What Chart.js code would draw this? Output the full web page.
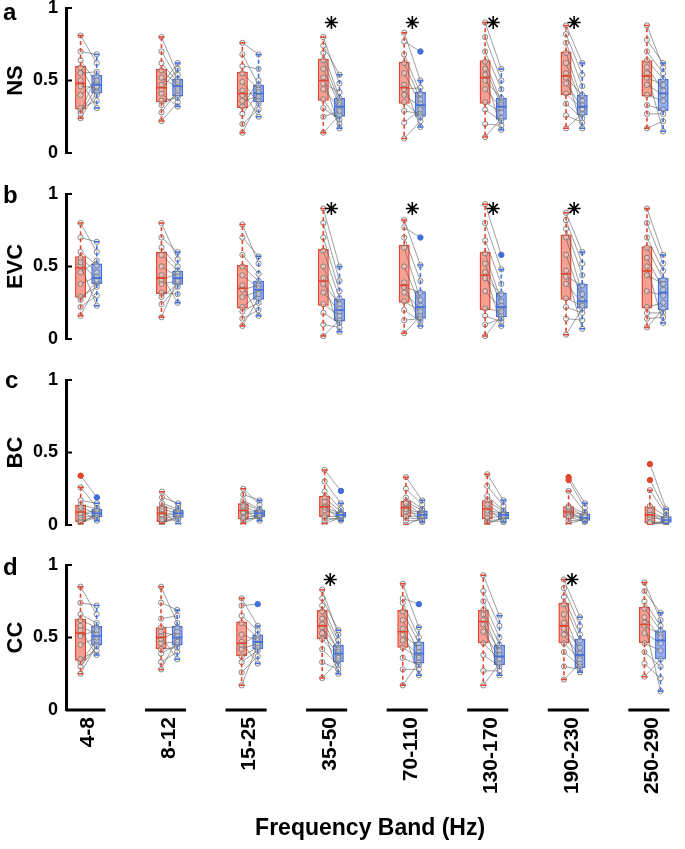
<!DOCTYPE html>
<html>
<head>
<meta charset="utf-8">
<script src="https://cdn.jsdelivr.net/npm/chart.js@4"></script>
<style>
  body { margin: 0; background: #fff; width: 685px; height: 849px; overflow: hidden; position: relative; font-family: "Liberation Sans", Arial, sans-serif; }
  canvas { position: absolute; left: 0; }
  .lbl { position: absolute; left: 3px; font-weight: bold; font-size: 24px; line-height: 24px; color: #000; }
</style>
</head>
<body>
<canvas id="ns" width="685" height="185" style="top:-12px"></canvas>
<canvas id="evc" width="685" height="185" style="top:174px"></canvas>
<canvas id="bc" width="685" height="185" style="top:360px"></canvas>
<canvas id="cc" width="685" height="304" style="top:545px"></canvas>
<div class="lbl" style="top:0px">a</div>
<div class="lbl" style="top:183px">b</div>
<div class="lbl" style="top:368px;left:5px">c</div>
<div class="lbl" style="top:555px">d</div>
<script>
const bands = ['4-8', '8-12', '15-25', '35-50', '70-110', '130-170', '190-230', '250-290'];
const yTicks = [0, 0.5, 1];

// ---- NS ----  box stats per band: [min, q1, median, q3, max]
const nsRedBox = [[0.24,0.30,0.48,0.60,0.81],[0.22,0.35,0.45,0.58,0.80],[0.14,0.31,0.41,0.56,0.76],[0.14,0.36,0.50,0.65,0.80],
                  [0.10,0.34,0.45,0.63,0.83],[0.11,0.34,0.52,0.64,0.90],[0.17,0.40,0.53,0.70,0.88],[0.17,0.39,0.53,0.64,0.88]];
const nsBlueBox = [[0.31,0.41,0.47,0.54,0.68],[0.32,0.39,0.46,0.51,0.62],[0.25,0.35,0.41,0.47,0.68],[0.17,0.25,0.32,0.38,0.54],
                   [0.18,0.25,0.33,0.42,0.50],[0.16,0.23,0.32,0.38,0.58],[0.17,0.26,0.32,0.40,0.62],[0.15,0.29,0.41,0.51,0.62]];
const nsRedOut = [[],[],[],[],[],[],[],[]];
const nsBlueOut = [[],[],[],[],[0.70],[],[],[]];
// per subject values (same subject order in red and blue)
const nsRed = [
  [0.81,0.24,0.50,0.64,0.29,0.46,0.70,0.31,0.55,0.40,0.59,0.27],
  [0.70,0.22,0.47,0.57,0.33,0.80,0.41,0.28,0.62,0.44,0.36,0.52],
  [0.76,0.14,0.43,0.55,0.27,0.60,0.36,0.20,0.68,0.40,0.32,0.49],
  [0.80,0.14,0.52,0.64,0.31,0.74,0.44,0.25,0.69,0.48,0.37,0.58],
  [0.77,0.10,0.47,0.62,0.29,0.83,0.40,0.21,0.68,0.44,0.35,0.55],
  [0.90,0.11,0.54,0.63,0.30,0.80,0.44,0.20,0.70,0.50,0.35,0.58],
  [0.88,0.17,0.55,0.69,0.34,0.82,0.48,0.26,0.76,0.52,0.41,0.62],
  [0.88,0.17,0.55,0.64,0.33,0.78,0.47,0.27,0.70,0.52,0.40,0.59]];
const nsBlue = [
  [0.62,0.42,0.31,0.48,0.53,0.45,0.68,0.36,0.56,0.50,0.40,0.46],
  [0.51,0.35,0.62,0.47,0.40,0.54,0.32,0.43,0.49,0.58,0.38,0.45],
  [0.68,0.36,0.25,0.44,0.41,0.58,0.39,0.30,0.47,0.42,0.50,0.34],
  [0.48,0.26,0.17,0.35,0.23,0.54,0.31,0.29,0.38,0.42,0.20,0.33],
  [0.70,0.22,0.18,0.37,0.27,0.50,0.32,0.30,0.41,0.45,0.25,0.34],
  [0.58,0.24,0.16,0.35,0.22,0.50,0.31,0.19,0.44,0.38,0.28,0.33],
  [0.62,0.27,0.17,0.36,0.24,0.54,0.31,0.21,0.46,0.40,0.30,0.33],
  [0.59,0.22,0.15,0.51,0.30,0.62,0.40,0.27,0.55,0.47,0.36,0.43]];
const nsSig = [4, 5, 6, 7];

// ---- EVC ----
const evcRedBox = [[0.16,0.285,0.49,0.57,0.80],[0.15,0.31,0.42,0.60,0.80],[0.09,0.21,0.35,0.51,0.79],[0.02,0.23,0.40,0.62,0.90],
                   [0.04,0.25,0.37,0.65,0.82],[0.02,0.20,0.44,0.60,0.93],[0.03,0.27,0.45,0.72,0.87],[0.08,0.21,0.47,0.64,0.90]];
const evcBlueBox = [[0.23,0.38,0.42,0.52,0.67],[0.25,0.375,0.42,0.47,0.60],[0.16,0.27,0.34,0.40,0.57],[0.05,0.12,0.20,0.28,0.50],
                    [0.09,0.14,0.22,0.33,0.51],[0.09,0.15,0.22,0.32,0.48],[0.07,0.21,0.26,0.38,0.60],[0.11,0.20,0.32,0.42,0.58]];
const evcRedOut = [[],[],[],[],[],[],[],[]];
const evcBlueOut = [[],[],[],[],[0.70],[0.58],[],[]];
const evcRed = [
  [0.80,0.16,0.51,0.56,0.27,0.70,0.38,0.22,0.60,0.46,0.29,0.53],
  [0.80,0.15,0.44,0.58,0.29,0.70,0.38,0.24,0.63,0.41,0.32,0.50],
  [0.79,0.09,0.37,0.50,0.19,0.70,0.29,0.14,0.58,0.34,0.22,0.44],
  [0.90,0.02,0.42,0.61,0.18,0.80,0.32,0.10,0.70,0.38,0.24,0.50],
  [0.77,0.04,0.39,0.63,0.20,0.82,0.32,0.13,0.70,0.36,0.26,0.50],
  [0.93,0.02,0.46,0.59,0.16,0.80,0.33,0.10,0.68,0.42,0.21,0.52],
  [0.87,0.03,0.47,0.70,0.22,0.82,0.38,0.14,0.76,0.43,0.28,0.58],
  [0.90,0.08,0.50,0.63,0.18,0.80,0.33,0.14,0.70,0.44,0.22,0.56]];
const evcBlue = [
  [0.60,0.38,0.23,0.46,0.40,0.67,0.43,0.30,0.51,0.54,0.36,0.41],
  [0.55,0.41,0.25,0.47,0.38,0.60,0.40,0.36,0.50,0.45,0.31,0.43],
  [0.52,0.28,0.16,0.40,0.25,0.57,0.33,0.20,0.45,0.37,0.31,0.35],
  [0.50,0.13,0.05,0.28,0.11,0.40,0.19,0.08,0.33,0.24,0.16,0.21],
  [0.70,0.16,0.09,0.27,0.12,0.51,0.21,0.14,0.40,0.32,0.19,0.23],
  [0.58,0.16,0.09,0.26,0.12,0.48,0.21,0.14,0.38,0.31,0.19,0.23],
  [0.60,0.21,0.07,0.31,0.18,0.52,0.25,0.13,0.44,0.37,0.23,0.27],
  [0.58,0.21,0.11,0.41,0.18,0.52,0.30,0.15,0.47,0.38,0.25,0.34]];
const evcSig = [4, 5, 6, 7];

// ---- BC ----
const bcRedBox = [[0.01,0.02,0.09,0.14,0.26],[0.01,0.02,0.08,0.13,0.23],[0.01,0.04,0.10,0.15,0.25],[0.01,0.055,0.125,0.20,0.38],
                  [0.00,0.055,0.12,0.165,0.33],[0.01,0.04,0.11,0.17,0.35],[0.01,0.05,0.09,0.13,0.235],[0.00,0.01,0.07,0.13,0.24]];
const bcBlueBox = [[0.03,0.055,0.08,0.11,0.15],[0.01,0.05,0.08,0.105,0.15],[0.03,0.055,0.08,0.105,0.17],[0.03,0.05,0.07,0.09,0.15],
                   [0.02,0.04,0.07,0.10,0.17],[0.02,0.04,0.07,0.09,0.17],[0.02,0.03,0.05,0.08,0.15],[0.01,0.015,0.035,0.06,0.11]];
const bcRedOut = [[0.34],[],[],[],[],[],[0.31,0.33],[0.31,0.42]];
const bcBlueOut = [[0.19],[],[],[0.235],[],[],[],[]];
const bcRed = [
  [0.34,0.01,0.10,0.14,0.03,0.26,0.07,0.02,0.17,0.08,0.05,0.12],
  [0.23,0.01,0.09,0.13,0.03,0.19,0.06,0.02,0.15,0.07,0.04,0.11],
  [0.25,0.01,0.11,0.15,0.04,0.21,0.08,0.03,0.17,0.09,0.05,0.13],
  [0.38,0.01,0.13,0.19,0.05,0.30,0.10,0.03,0.23,0.12,0.06,0.16],
  [0.33,0.00,0.13,0.16,0.05,0.25,0.09,0.03,0.19,0.11,0.06,0.15],
  [0.35,0.01,0.12,0.17,0.03,0.27,0.08,0.02,0.20,0.10,0.05,0.14],
  [0.33,0.01,0.10,0.13,0.05,0.31,0.08,0.03,0.235,0.09,0.06,0.12],
  [0.42,0.00,0.08,0.13,0.01,0.31,0.05,0.01,0.24,0.07,0.02,0.10]];
const bcBlue = [
  [0.19,0.08,0.03,0.11,0.06,0.12,0.09,0.05,0.15,0.10,0.07,0.08],
  [0.13,0.06,0.01,0.10,0.05,0.15,0.08,0.04,0.11,0.09,0.07,0.08],
  [0.14,0.06,0.03,0.10,0.05,0.17,0.08,0.06,0.11,0.09,0.07,0.08],
  [0.235,0.05,0.03,0.09,0.04,0.15,0.07,0.05,0.11,0.08,0.06,0.07],
  [0.17,0.05,0.02,0.10,0.04,0.14,0.07,0.03,0.11,0.08,0.06,0.07],
  [0.17,0.05,0.02,0.09,0.04,0.13,0.07,0.03,0.10,0.08,0.06,0.07],
  [0.15,0.04,0.02,0.08,0.03,0.12,0.05,0.03,0.09,0.07,0.05,0.06],
  [0.11,0.03,0.01,0.06,0.02,0.09,0.04,0.01,0.07,0.05,0.02,0.035]];
const bcSig = [];

// ---- CC ----
const ccRedBox = [[0.25,0.34,0.53,0.63,0.85],[0.28,0.42,0.50,0.57,0.85],[0.17,0.37,0.46,0.61,0.77],[0.22,0.49,0.58,0.69,0.83],
                  [0.17,0.43,0.54,0.69,0.87],[0.17,0.46,0.61,0.69,0.93],[0.21,0.46,0.58,0.74,0.90],[0.23,0.46,0.59,0.71,0.88]];
const ccBlueBox = [[0.38,0.445,0.51,0.58,0.72],[0.35,0.445,0.50,0.58,0.69],[0.32,0.42,0.47,0.52,0.58],[0.25,0.33,0.39,0.45,0.55],
                   [0.24,0.32,0.39,0.47,0.57],[0.24,0.31,0.37,0.45,0.65],[0.26,0.29,0.38,0.49,0.64],[0.13,0.35,0.48,0.55,0.67]];
const ccRedOut = [[],[],[],[],[],[],[],[]];
const ccBlueOut = [[],[],[0.73],[],[0.73],[],[],[]];
const ccRed = [
  [0.85,0.25,0.55,0.62,0.33,0.74,0.45,0.30,0.66,0.51,0.35,0.58],
  [0.85,0.28,0.51,0.57,0.39,0.74,0.46,0.33,0.63,0.49,0.42,0.54],
  [0.72,0.17,0.47,0.60,0.33,0.77,0.42,0.26,0.65,0.45,0.37,0.52],
  [0.83,0.22,0.59,0.68,0.42,0.77,0.53,0.33,0.72,0.57,0.49,0.63],
  [0.77,0.17,0.56,0.68,0.36,0.87,0.48,0.28,0.74,0.52,0.43,0.62],
  [0.93,0.17,0.62,0.69,0.38,0.82,0.54,0.27,0.75,0.59,0.46,0.66],
  [0.90,0.21,0.60,0.73,0.40,0.84,0.52,0.30,0.78,0.56,0.46,0.66],
  [0.88,0.23,0.60,0.70,0.40,0.82,0.53,0.32,0.75,0.58,0.46,0.64]];
const ccBlue = [
  [0.66,0.45,0.38,0.57,0.48,0.72,0.50,0.44,0.60,0.55,0.41,0.52],
  [0.60,0.49,0.35,0.57,0.45,0.69,0.47,0.40,0.65,0.54,0.43,0.51],
  [0.73,0.45,0.32,0.50,0.41,0.58,0.46,0.37,0.55,0.52,0.43,0.48],
  [0.52,0.34,0.25,0.45,0.31,0.55,0.38,0.28,0.48,0.42,0.36,0.40],
  [0.73,0.33,0.24,0.46,0.31,0.57,0.38,0.28,0.50,0.43,0.36,0.40],
  [0.65,0.32,0.24,0.45,0.30,0.58,0.36,0.27,0.50,0.41,0.35,0.38],
  [0.64,0.32,0.26,0.48,0.30,0.58,0.37,0.28,0.52,0.43,0.35,0.39],
  [0.62,0.35,0.13,0.55,0.30,0.67,0.46,0.22,0.58,0.52,0.41,0.50]];
const ccSig = [4, 7];

// ---- drawing settings ----
const RED = '#e8442c', RED_FILL = 'rgba(240,100,80,0.62)';
const BLUE = '#4170e0', BLUE_FILL = 'rgba(85,125,232,0.62)';
const X_MIN = 0.72, X_MAX = 8.27;
const OFF = 0.1;      // red/blue shift from band centre
const HALF = 0.062;   // half box width (median line)
const CAP = 0.035;    // half whisker cap
const STAR_Y = 0.9;

Chart.defaults.font.family = '"Liberation Sans", Arial, sans-serif';

function gapped(segs) {
  const out = [];
  segs.forEach(s => {
    out.push({x: s[0][0], y: s[0][1]}, {x: s[1][0], y: s[1][1]}, {x: s[1][0], y: null});
  });
  return out;
}

function boxSets(box, outliers, dx, color, fill) {
  const cx = b => b + 1 + dx;
  const whisk = [], caps = [], meds = [], outPts = [];
  box.forEach((s, b) => {
    const x = cx(b);
    whisk.push([[x, s[3]], [x, s[4]]], [[x, s[1]], [x, s[0]]]);
    caps.push([[x - CAP, s[4]], [x + CAP, s[4]]], [[x - CAP, s[0]], [x + CAP, s[0]]]);
    meds.push([[x - HALF, s[2]], [x + HALF, s[2]]]);
  });
  outliers.forEach((vals, b) => vals.forEach(v => outPts.push({x: cx(b), y: v})));
  return [
    {type: 'line', data: gapped(meds), borderColor: color, borderWidth: 1.6, pointRadius: 0, order: 1},
    {type: 'bar', data: box.map((s, b) => ({x: cx(b), y: [s[1], s[3]]})), backgroundColor: fill,
     borderColor: color, borderWidth: 1.5, borderSkipped: false, grouped: false, maxBarThickness: 11, order: 3},
    {type: 'line', data: gapped(whisk), borderColor: color, borderWidth: 1.6, borderDash: [4, 3], pointRadius: 0, order: 2},
    {type: 'line', data: gapped(caps), borderColor: color, borderWidth: 1.5, pointRadius: 0, order: 2},
    {type: 'scatter', data: outPts, pointRadius: 2.6, pointBackgroundColor: color, pointBorderColor: color, order: 1.5}
  ];
}

const inwardTicks = {
  id: 'inwardTicks',
  afterDraw(chart) {
    const ys = chart.scales.y, ctx = chart.ctx, left = chart.chartArea.left;
    ctx.save();
    ctx.strokeStyle = '#000';
    ctx.lineWidth = 2;
    ys.ticks.forEach(t => {
      const py = ys.getPixelForValue(t.value);
      ctx.beginPath();
      ctx.moveTo(left, py);
      ctx.lineTo(left + 6, py);
      ctx.stroke();
    });
    ctx.restore();
  }
};

function makePanel(id, name, red, blue, redBox, blueBox, redOut, blueOut, sig, bottom) {
  const pairs = [];
  red.forEach((vals, b) => {
    vals.forEach((v, s) => {
      pairs.push({x: b + 1 - OFF, y: v}, {x: b + 1 + OFF, y: blue[b][s]}, {x: b + 1, y: null});
    });
  });

  const datasets = [
    {type: 'scatter', data: sig.map(b => ({x: b, y: STAR_Y})), pointStyle: 'star', pointRadius: 6.5,
     pointBorderColor: '#000', pointBorderWidth: 1.6, order: 0},
    ...boxSets(redBox, redOut, -OFF, RED, RED_FILL),
    ...boxSets(blueBox, blueOut, OFF, BLUE, BLUE_FILL),
    // paired subject lines drawn over the boxes, under whiskers and medians
    {type: 'line', data: pairs, borderColor: 'rgba(95,95,95,0.8)', borderWidth: 0.75,
     pointRadius: 2.6, pointBorderWidth: 0.9, pointBorderColor: 'rgba(115,115,115,0.95)',
     pointBackgroundColor: 'rgba(255,255,255,0.35)', order: 2.5}
  ];

  if (bottom) {
    const segs = bands.map((_, b) => [[b === 0 ? X_MIN : b + 1 - 0.3, 0], [b + 1 + 0.21, 0]]);
    datasets.push({type: 'line', data: gapped(segs), borderColor: '#000', borderWidth: 3,
                   pointRadius: 0, clip: false, order: 6});
  }

  new Chart(document.getElementById(id), {
    type: 'bar',
    data: {datasets},
    options: {
      responsive: false,
      animation: false,
      events: [],
      layout: {padding: {top: 20, bottom: bottom ? 0 : 20, left: 0, right: 0}},
      plugins: {legend: {display: false}, tooltip: {enabled: false}},
      scales: {
        x: {
          type: 'linear', min: X_MIN, max: X_MAX, offset: false, display: bottom,
          grid: {display: false, drawTicks: false},
          border: {display: false},
          afterBuildTicks: s => { s.ticks = bands.map((_, i) => ({value: i + 1})); },
          afterFit: s => { s.height = bottom ? 139 : 0; },
          ticks: {autoSkip: false, minRotation: 90, maxRotation: 90, padding: 7, color: '#000',
                  font: {size: 21, weight: 'bold'}, callback: v => bands[v - 1]},
          title: {display: true, text: 'Frequency Band (Hz)', color: '#000',
                  font: {size: 23, weight: 'bold'}, padding: {bottom: 7}}
        },
        y: {
          min: 0, max: 1,
          afterBuildTicks: s => { s.ticks = yTicks.map(v => ({value: v})); },
          afterFit: s => { s.width = 66; },
          grid: {display: false, drawTicks: false},
          border: {display: true, color: '#000', width: 3},
          ticks: {padding: 8, color: '#000', font: {size: 18, weight: 'bold'}, callback: v => String(v)},
          title: {display: true, text: name, color: '#000', font: {size: 22, weight: 'bold'}, padding: {top: 3}}
        }
      }
    },
    plugins: [inwardTicks]
  });
}

makePanel('ns', 'NS', nsRed, nsBlue, nsRedBox, nsBlueBox, nsRedOut, nsBlueOut, nsSig, false);
makePanel('evc', 'EVC', evcRed, evcBlue, evcRedBox, evcBlueBox, evcRedOut, evcBlueOut, evcSig, false);
makePanel('bc', 'BC', bcRed, bcBlue, bcRedBox, bcBlueBox, bcRedOut, bcBlueOut, bcSig, false);
makePanel('cc', 'CC', ccRed, ccBlue, ccRedBox, ccBlueBox, ccRedOut, ccBlueOut, ccSig, true);
</script>
</body>
</html>
